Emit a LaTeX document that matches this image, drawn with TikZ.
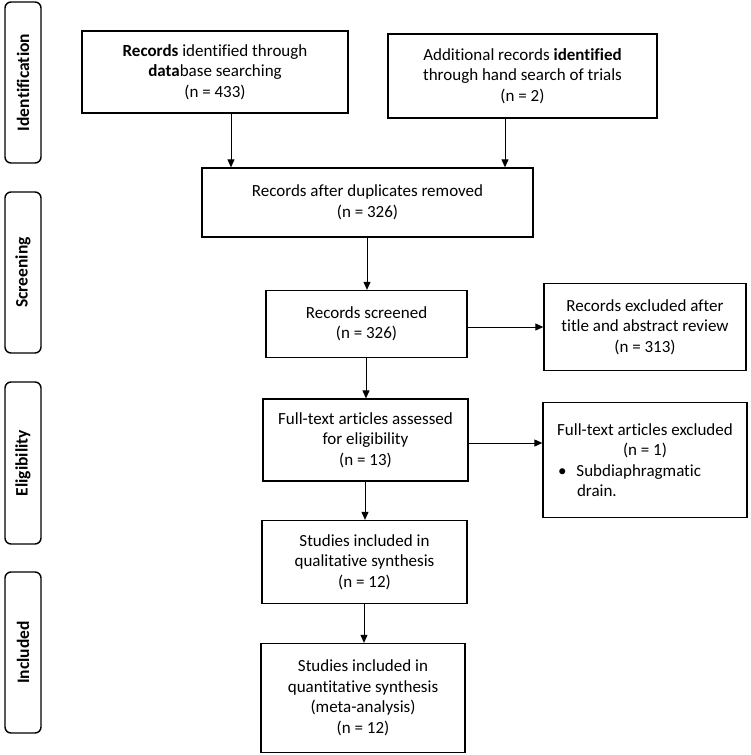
\documentclass[tikz,border=0pt]{standalone}
\usepackage{fontspec}
\setmainfont{Carlito}[RawFeature=-liga]
\usetikzlibrary{arrows.meta}
\begin{document}
\begin{tikzpicture}[x=1pt,y=-1pt,
  box/.style={draw, line width=1.3pt, align=center, inner sep=0pt, font=\fontsize{17}{20.5}\selectfont},
  phase/.style={draw, line width=1.4pt, rounded corners=6pt, rotate=90, inner sep=0pt, minimum height=36pt, font=\bfseries\fontsize{17.5}{20}\selectfont},
  arr/.style={-{Triangle[length=8pt,width=7pt]}, line width=1pt}]
\useasboundingbox (0,0) rectangle (750,755);
\fill[white] (0,0) rectangle (750,755);

% phase labels
\node[phase, minimum width=161pt] (p1) at (23,82.5) {Identification};
\node[phase, minimum width=161pt] (p2) at (23,272.5) {Screening};
\node[phase, minimum width=162pt] (p3) at (23,463) {Eligibility};
\node[phase, minimum width=161pt] (p4) at (23,652.5) {Included};

% boxes
\node[box, minimum width=266pt, minimum height=82pt] (A) at (215,72) {\textbf{Records} identified through\\\textbf{data}base searching\\(n = 433)};
\node[box, minimum width=269pt, minimum height=84pt] (B) at (522.5,76) {Additional records \textbf{identified}\\through hand search of trials\\(n = 2)};
\node[box, minimum width=331pt, minimum height=69pt] (C) at (367.5,202.5) {Records after duplicates removed\\(n = 326)};
\node[box, minimum width=201pt, minimum height=67pt] (D) at (366.5,324) {Records screened\\(n = 326)};
\node[box, minimum width=202pt, minimum height=87pt] (E) at (645,327) {Records excluded after\\title and abstract review\\(n = 313)};
\node[box, minimum width=205pt, minimum height=82pt] (F) at (365.5,440) {Full-text articles assessed\\for eligibility\\(n = 13)};
\node[box, minimum width=204pt, minimum height=115pt] (G) at (645,460) {Full-text articles excluded\\(n = 1)\\\makebox[188pt][l]{\hspace*{7pt}\textbullet\hspace{10pt}Subdiaphragmatic}\\\makebox[188pt][l]{\hspace*{26pt}drain.}};
\node[box, minimum width=205pt, minimum height=83pt] (H) at (364.5,562) {Studies included in\\qualitative synthesis\\(n = 12)};
\node[box, minimum width=204pt, minimum height=109pt] (I) at (363,698) {Studies included in\\quantitative synthesis\\(meta-analysis)\\(n = 12)};

% connector positions
\coordinate (xa) at (231,0);
\coordinate (xb) at (505,0);
\coordinate (xc) at (367,0);
\coordinate (xd) at (366,0);
\coordinate (xf) at (365,0);
\coordinate (xh) at (364,0);
\coordinate (yd) at (0,327);
\coordinate (yf) at (0,443);

\draw[arr] (A.south -| xa) -- (C.north -| xa);
\draw[arr] (B.south -| xb) -- (C.north -| xb);
\draw[arr] (C.south -| xc) -- (D.north -| xc);
\draw[arr] (D.east |- yd) -- (E.west |- yd);
\draw[arr] (D.south -| xd) -- (F.north -| xd);
\draw[arr] (F.east |- yf) -- (G.west |- yf);
\draw[arr] (F.south -| xf) -- (H.north -| xf);
\draw[arr] (H.south -| xh) -- (I.north -| xh);
\end{tikzpicture}
\end{document}
